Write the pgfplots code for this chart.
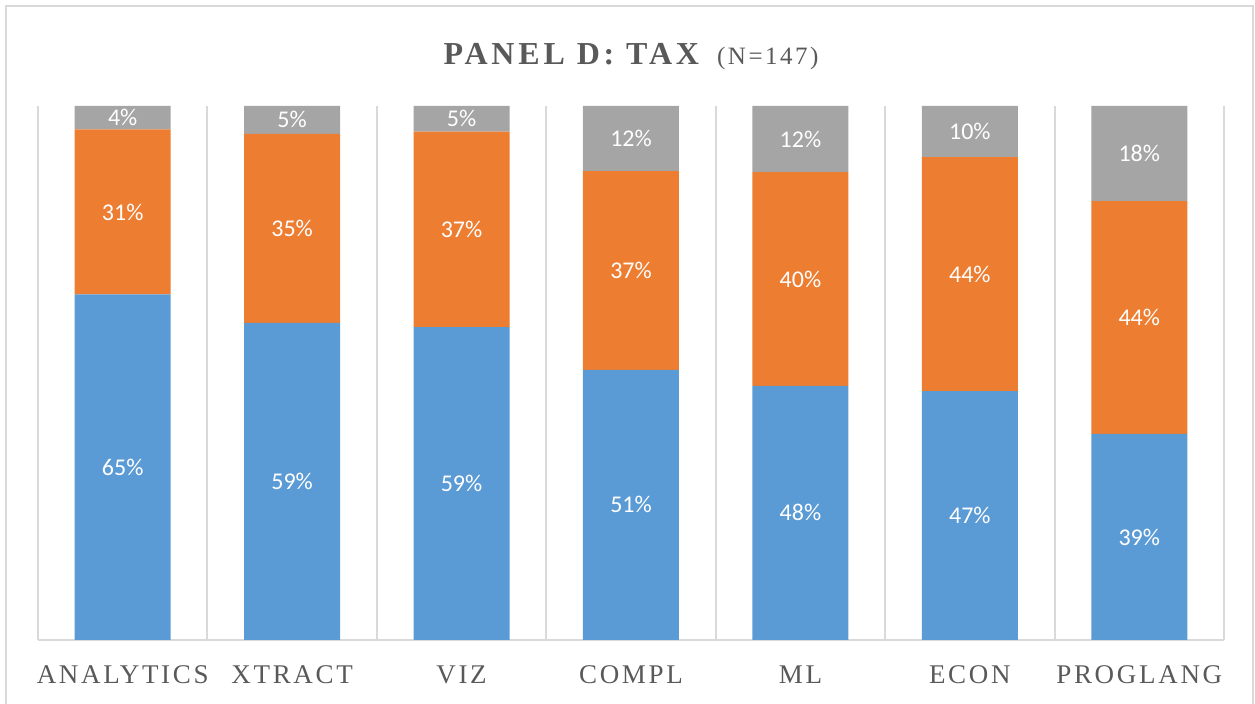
\documentclass[border=0pt]{standalone}
\usepackage{fontspec}
\usepackage{pgfplots}
\usepackage{pgfplotstable}
\pgfplotsset{compat=1.18}
\setmainfont{Liberation Serif}
\newfontfamily\calib{Carlito}
\newfontfamily\spacedT[LetterSpace=12]{Liberation Serif}
\newfontfamily\spacedX[LetterSpace=10]{Liberation Serif}
\definecolor{barblue}{HTML}{5B9BD5}
\definecolor{barorange}{HTML}{ED7D31}
\definecolor{bargray}{HTML}{A5A5A5}
\definecolor{gridgray}{HTML}{D9D9D9}
\definecolor{txtgray}{HTML}{595959}

% shares per tool (percent of respondents)
\pgfplotstableread{
x blue orange gray
0 64.7 30.9 4.4
1 59.4 35.4 5.2
2 58.6 36.6 4.8
3 50.6 37.2 12.2
4 47.6 40.0 12.4
5 46.6 43.8 9.6
6 38.6 43.6 17.8
}\taxdata

\begin{document}
\begin{tikzpicture}
\useasboundingbox (-19pt,-32pt) rectangle (608.5pt,320pt);
\begin{axis}[
  scale only axis,
  width=593pt, height=267pt,
  ybar stacked,
  bar width=48pt,
  xmin=-0.5, xmax=6.5,
  ymin=0, ymax=100,
  axis x line*=bottom,
  axis y line=none,
  axis line style={draw=gridgray, line width=1pt},
  xtick={0,...,6},
  xticklabels={ANALYTICS,XTRACT,VIZ,COMPL,ML,ECON,PROGLANG},
  minor xtick={-0.5,0.5,...,6.5},
  xminorgrids=true,
  minor grid style={draw=gridgray, line width=1pt},
  major tick length=0pt, minor tick length=0pt,
  ytick=\empty,
  xticklabel style={font=\fontsize{13.5}{16}\selectfont\spacedX, text=txtgray, yshift=-9.5pt},
  title={{\bfseries\spacedT PANEL D: TAX}\hspace{9pt}{\fontsize{12.5}{14}\selectfont\spacedX (N=147)}},
  title style={at={(0.5,1)}, anchor=base, yshift=14.5pt, font=\fontsize{16}{19}\selectfont, text=txtgray},
]
\addplot[fill=barblue, draw=none] table[x=x, y=blue] {\taxdata};
\addplot[fill=barorange, draw=none] table[x=x, y=orange] {\taxdata};
\addplot[fill=bargray, draw=none] table[x=x, y=gray] {\taxdata};
\end{axis}
\begin{axis}[
  scale only axis,
  width=593pt, height=267pt,
  xmin=-0.5, xmax=6.5,
  ymin=0, ymax=100,
  hide axis,
  /pgf/number format/assume math mode=true,
  nodes near coords={\pgfmathprintnumber[fixed,precision=0]{\pgfplotspointmeta}\%},
  every node near coord/.style={anchor=center, font=\fontsize{12}{14}\selectfont\calib, text=white},
  point meta=explicit,
]
\addplot[draw=none, mark=none] table[x=x, y expr=\thisrow{blue}/2, meta=blue] {\taxdata};
\addplot[draw=none, mark=none] table[x=x, y expr=\thisrow{blue}+\thisrow{orange}/2, meta=orange] {\taxdata};
\addplot[draw=none, mark=none] table[x=x, y expr=\thisrow{blue}+\thisrow{orange}+\thisrow{gray}/2, meta=gray] {\taxdata};
\end{axis}
\draw[gridgray, line width=1pt] (-16pt,-40pt) -- (-16pt,317pt) -- (607.5pt,317pt) -- (607.5pt,-40pt);
\end{tikzpicture}
\end{document}
